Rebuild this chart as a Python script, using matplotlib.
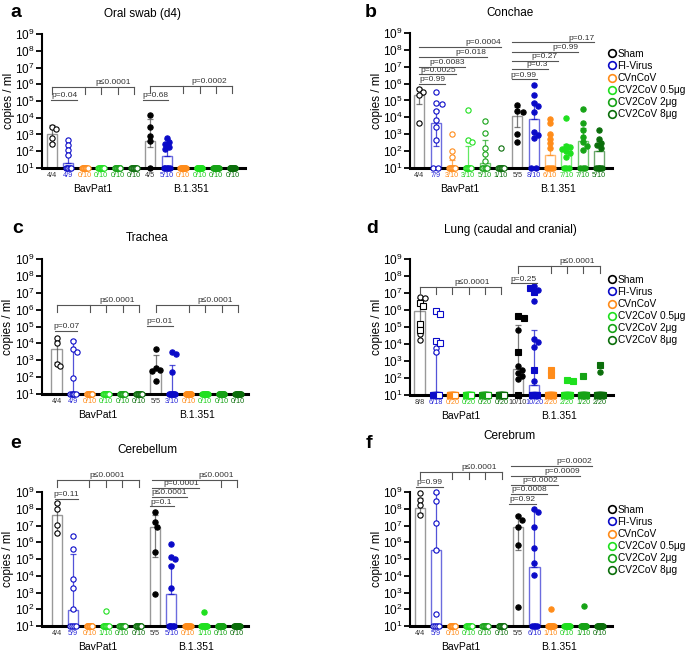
import numpy as np
import matplotlib
matplotlib.use("Agg")
import matplotlib.pyplot as plt
from matplotlib.lines import Line2D
from matplotlib.ticker import NullLocator

plt.rcParams["font.family"] = "Liberation Sans"
plt.rcParams["mathtext.fontset"] = "custom"
plt.rcParams["mathtext.rm"] = "Liberation Sans"
plt.rcParams["mathtext.default"] = "regular"

nan = np.nan

groups = ["Sham", "FI-Virus", "CVnCoV", "CV2CoV 0.5μg", "CV2CoV 2μg", "CV2CoV 8μg"]
variants = ["BavPat1", "B.1.351"]
colors = ["#000000", "#0a0ac8", "#ff8c1a", "#1fe01f", "#16a316", "#0b6e0b"]
label_colors = ["#333333", "#2a2ad8", "#ff8c1a", "#1fd01f", "#16a316", "#0b6e0b"]

# values are log10(copies / ml); 1 = detection limit
# 12 groups: BavPat1 x6 then B.1.351 x6

# a - Oral swab (d4)
a_det = [[3.45, 3.3, 2.8, 2.45], [2.65, 2.35, 2.05, 1.76], [], [], [], [],
         [4.14, 3.45, 2.9, 2.6], [2.79, 2.55, 2.41, 2.25, 2.15], [], [], [], []]
a_n = [4, 9, 10, 10, 10, 10, 5, 10, 10, 10, 10, 10]
a_labels = ["4/4", "4/9", "0/10", "0/10", "0/10", "0/10", "4/5", "5/10", "0/10", "0/10", "0/10", "0/10"]
a_bar = [3.05, 1.3, 1, 1, 1, 1, 2.6, 1.7, 1, 1, 1, 1]
a_err_hi = [3.55, 1.8, nan, nan, nan, nan, 3.95, 2.75, nan, nan, nan, nan]
a_err_lo = [2.5, nan, nan, nan, nan, nan, 2.25, nan, nan, nan, nan, nan]

# b - Conchae
b_det = [[5.68, 5.5, 5.35, 3.69], [5.52, 4.88, 4.8, 4.38, 3.85, 3.4, 2.65], [3.03, 1.98, 1.68],
         [4.42, 2.67, 2.53], [3.77, 3.09, 2.17, 1.84, 1.44], [2.17],
         [4.72, 4.38, 4.3, 3.03, 2.53], [5.92, 5.32, 4.85, 4.7, 4.3, 3.15, 2.93, 2.75],
         [3.93, 3.67, 3.03, 2.73, 2.47, 2.17], [3.99, 2.33, 2.23, 2.13, 2.03, 1.88, 1.68],
         [4.52, 3.69, 3.27, 2.83, 2.53, 2.33, 2.07], [3.27, 2.73, 2.49, 2.37, 2.17]]
b_n = [4, 9, 10, 10, 10, 10, 5, 10, 10, 10, 10, 10]
b_labels = ["4/4", "7/9", "3/10", "3/10", "5/10", "1/10", "5/5", "8/10", "6/10", "7/10", "7/10", "5/10"]
b_bar = [5.32, 3.69, 1.1, 1.05, 1.28, 1.0, 4.06, 3.9, 1.78, 2.15, 2.59, 1.98]
b_err_hi = [5.76, 4.46, 1.45, 2.3, 2.63, nan, 4.62, 4.92, 2.93, 2.45, 3.39, 2.6]
b_err_lo = [4.82, 2.33, nan, nan, nan, nan, 3.4, nan, nan, nan, nan, nan]

# c - Trachea
c_det = [[4.3, 4.05, 2.8, 2.65], [4.16, 3.67, 3.47, 1.95], [], [], [], [],
         [3.65, 2.55, 2.45, 2.35, 1.75], [3.51, 3.37, 2.28], [], [], [], []]
c_n = [4, 9, 10, 10, 10, 10, 5, 10, 10, 10, 10, 10]
c_labels = ["4/4", "4/9", "0/10", "0/10", "0/10", "0/10", "5/5", "3/10", "0/10", "0/10", "0/10", "0/10"]
c_bar = [3.67, 1, 1, 1, 1, 1, 2.48, 1, 1, 1, 1, 1]
c_err_hi = [4.16, 4.2, nan, nan, nan, nan, 3.33, 2.74, nan, nan, nan, nan]
c_err_lo = [2.88, nan, nan, nan, nan, nan, nan, nan, nan, nan, nan, nan]

# d - Lung (circles and squares = the two lobes)
d_circ = [[6.77, 6.73, 4.56, 4.26], [3.77, 3.51], [], [], [], [],
          [4.83, 2.68, 2.48, 2.3, 2.1, 1.93], [7.42, 7.2, 6.55, 4.3, 4.1, 3.85, 1.8], [], [], [], [2.38]]
d_sq = [[6.4, 6.24, 5.19, 4.85], [5.94, 5.74, 4.16, 4.06], [], [], [], [],
        [5.63, 5.55, 3.51, 1.0], [7.3, 7.05, 2.5], [2.48, 2.19], [1.9, 1.85], [2.09], [2.78]]
d_n = [8, 18, 20, 20, 20, 20, 10, 20, 20, 20, 20, 20]
d_labels = ["8/8", "6/18", "0/20", "0/20", "0/20", "0/20", "10/10", "10/20", "2/20", "2/20", "1/20", "2/20"]
d_bar = [5.94, 1, 1, 1, 1, 1, 2.52, 1.59, 1, 1, 1, 1]
d_err_hi = [6.73, 3.5, nan, nan, nan, nan, 5.11, 4.8, nan, nan, nan, nan]
d_err_lo = [5.05, nan, nan, nan, nan, nan, nan, nan, nan, nan, nan, nan]

# e - Cerebellum
e_det = [[8.34, 7.98, 7.04, 6.54], [6.38, 5.6, 3.8, 3.28, 2.0], [], [1.9], [], [],
         [7.78, 7.18, 6.94, 5.44, 2.94], [5.9, 5.14, 5.0, 4.6, 3.28], [], [1.84], [], []]
e_n = [4, 9, 10, 10, 10, 10, 5, 10, 10, 10, 10, 10]
e_labels = ["4/4", "5/9", "0/10", "1/10", "0/10", "0/10", "5/5", "5/10", "0/10", "1/10", "0/10", "0/10"]
e_bar = [7.6, 1.98, 1, 1, 1, 1, 6.9, 2.94, 1, 1, 1, 1]
e_err_hi = [8.4, 5.3, nan, nan, nan, nan, 7.64, 4.64, nan, nan, nan, nan]
e_err_lo = [6.58, nan, nan, nan, nan, nan, 5.14, nan, nan, nan, nan, nan]

# f - Cerebrum
f_det = [[8.94, 8.5, 8.2, 7.65], [9.0, 8.44, 7.14, 5.54, 1.74], [], [], [], [],
         [7.54, 7.34, 6.94, 5.84, 2.14], [7.98, 7.78, 6.94, 5.68, 4.78, 4.04], [2.0], [], [2.2], []]
f_n = [4, 9, 10, 10, 10, 10, 5, 10, 10, 10, 10, 10]
f_labels = ["4/4", "5/9", "0/10", "0/10", "0/10", "0/10", "5/5", "6/10", "1/10", "0/10", "1/10", "0/10"]
f_bar = [8.04, 5.54, 1, 1, 1, 1, 6.94, 4.5, 1, 1, 1, 1]
f_err_hi = [8.64, 8.94, nan, nan, nan, nan, 7.64, 7.9, nan, nan, nan, nan]
f_err_lo = [7.74, nan, nan, nan, nan, nan, 5.54, nan, nan, nan, nan, nan]

# p-value brackets: (x0, x1, y, text, text x, align, drops)
a_stats = [(-0.05, 1.55, 5.05, "p=0.04", 0.75, "center", []),
           (0, 5, 5.85, "p≤0.0001", 3.7, "center", [0, 2, 3, 4, 5]),
           (5.55, 7.05, 5.05, "p=0.68", 6.3, "center", []),
           (6, 11, 5.9, "p=0.0002", 9.6, "center", [6, 8, 9, 10, 11])]
b_stats = [(0, 1.57, 5.98, "p=0.99", 1.57, "right", []),
           (0, 2.23, 6.55, "p=0.0025", 2.23, "right", []),
           (0, 2.8, 7.01, "p=0.0083", 2.8, "right", []),
           (0, 4.12, 7.57, "p=0.018", 4.12, "right", []),
           (0, 5.0, 8.16, "p=0.0004", 5.0, "right", []),
           (5.69, 7.18, 6.25, "p=0.99", 7.18, "right", []),
           (5.69, 7.86, 6.85, "p=0.3", 7.86, "right", []),
           (5.69, 8.47, 7.37, "p=0.27", 8.47, "right", []),
           (5.69, 9.73, 7.9, "p=0.99", 9.73, "right", []),
           (5.69, 10.71, 8.44, "p=0.17", 10.71, "right", [])]
c_stats = [(-0.09, 1.26, 4.72, "p=0.07", 0.6, "center", []),
           (0, 5, 6.3, "p≤0.0001", 3.7, "center", [0, 2, 3, 4, 5]),
           (5.47, 7.08, 5.05, "p=0.01", 6.27, "center", []),
           (6, 11, 6.3, "p≤0.0001", 9.6, "center", [6, 8, 9, 10, 11])]
d_stats = [(0, 5, 7.38, "p≤0.0001", 3.2, "center", [0, 1, 2, 3, 4, 5]),
           (5.55, 7.14, 7.56, "p=0.25", 6.35, "center", []),
           (6, 11, 8.6, "p≤0.0001", 9.6, "center", [6, 8, 9, 10, 11])]
e_stats = [(-0.1, 1.33, 8.58, "p=0.11", 0.6, "center", []),
           (0, 5, 9.7, "p≤0.0001", 3.1, "center", [0, 2, 3, 4, 5]),
           (5.7, 7.14, 8.14, "p=0.1", 6.4, "center", []),
           (5.8, 7.96, 8.7, "p≤0.0001", 7.96, "right", []),
           (5.8, 8.67, 9.24, "p=0.0001", 8.67, "right", []),
           (5.8, 11, 9.74, "p≤0.0001", 10.8, "right", [10, 11])]
f_stats = [(-0.2, 1.4, 9.3, "p=0.99", 0.6, "center", []),
           (0, 5, 10.2, "p≤0.0001", 3.6, "center", [0, 2, 3, 4, 5]),
           (5.45, 7.07, 8.3, "p=0.92", 6.26, "center", []),
           (5.55, 7.78, 8.88, "p=0.0008", 7.78, "right", []),
           (5.55, 8.41, 9.4, "p=0.0002", 8.41, "right", []),
           (5.55, 9.78, 9.94, "p=0.0009", 9.78, "right", []),
           (5.55, 10.49, 10.54, "p=0.0002", 10.49, "right", [])]

W, H = 698, 653
fig = plt.figure(figsize=(W / 100, H / 100), dpi=100)


def rect(l, t, r, b):
    return [l / W, 1 - b / H, (r - l) / W, (b - t) / H]


def swarm(vals, d=4.2, step=0.12):
    # simple beeswarm in pixel space (16.4 px per group, 16.8 px per decade)
    placed, xs = [], []
    for v in vals:
        k = 0
        while True:
            found = None
            for o in ([0] if k == 0 else [k, -k]):
                x = o * step
                if all(((x - px) * 16.4) ** 2 + ((v - py) * 16.8) ** 2 >= d ** 2 for px, py in placed):
                    found = x
                    break
            if found is not None:
                break
            k += 1
        placed.append((found, v))
        xs.append(found)
    return xs


def draw_panel(ax, det, n, labels, bar, err_hi, err_lo, stats, xlim, sq=None):
    for i in range(12):
        col = colors[i % 6]
        filled = i >= 6
        x = i
        if bar[i] > 1.01:
            ax.bar(x, 10 ** bar[i] - 10, bottom=10, width=0.62, facecolor="white",
                   edgecolor=(col if i % 6 else "#555555", 0.6), lw=1.0, zorder=1)
        if not np.isnan(err_hi[i]):
            lo = err_lo[i] if not np.isnan(err_lo[i]) else bar[i]
            ax.errorbar(x, 10 ** bar[i], yerr=[[10 ** bar[i] - 10 ** lo], [10 ** err_hi[i] - 10 ** bar[i]]],
                        fmt="none", ecolor=(col if i % 6 else "#444444", 0.7), elinewidth=0.9,
                        capsize=2, capthick=0.9, zorder=2)
        circ = det[i]
        squares = sq[i] if sq is not None else []
        n_lod = n[i] - len(circ) - len(squares)
        lod_marker = "s" if sq is not None else "o"
        mfc = col if filled else "white"
        if n_lod > 0:
            xs = np.linspace(-0.17, 0.17, n_lod) if n_lod > 1 else [0]
            ax.plot(x + np.asarray(xs), [10] * n_lod, lod_marker, ms=3.8, mfc=mfc, mec=col,
                    mew=0.8, clip_on=False, zorder=3)
        allv = list(circ) + list(squares)
        if allv:
            xs = swarm(allv)
            for k, v in enumerate(allv):
                m = "o" if k < len(circ) else "s"
                ax.plot(x + xs[k], 10 ** v, m, ms=3.8, mfc=mfc, mec=col, mew=0.8,
                        clip_on=False, zorder=4)
        ax.annotate(labels[i], xy=(x, 0), xycoords=ax.get_xaxis_transform(), xytext=(0, -5.2),
                    textcoords="offset points", ha="center", va="center", fontsize=5.2,
                    color=label_colors[i % 6])
    for j, name in enumerate(variants):
        ax.annotate(name, xy=(2.5 + 6 * j, 0), xycoords=ax.get_xaxis_transform(), xytext=(0, -15.3),
                    textcoords="offset points", ha="center", va="center", fontsize=7.5)
    for x0, x1, y, txt, tx, ha, drops in stats:
        ax.plot([x0, x1], [10 ** y, 10 ** y], color="#555555", lw=0.8, clip_on=False, zorder=5)
        for dx in drops:
            ax.plot([dx, dx], [10 ** y, 10 ** (y - 0.42)], color="#555555", lw=0.8, clip_on=False, zorder=5)
        ax.annotate(txt, xy=(tx, 10 ** y), xytext=(0, 0.6), textcoords="offset points",
                    ha=ha, va="bottom", fontsize=6, color="#333333", annotation_clip=False)

    ax.set_yscale("log")
    ax.set_ylim(10, 1e9)
    ax.set_xlim(*xlim)
    ax.set_yticks([10 ** k for k in range(1, 10)])
    ax.set_yticklabels([f"$10^{{{k}}}$" for k in range(1, 10)], fontsize=8.5)
    ax.yaxis.set_minor_locator(NullLocator())
    ax.set_xticks([])
    ax.tick_params(axis="y", length=4, width=1.3, pad=1.5)
    ax.spines["top"].set_visible(False)
    ax.spines["right"].set_visible(False)
    ax.spines["left"].set_linewidth(1.5)
    ax.spines["bottom"].set_linewidth(2.2)
    ax.set_ylabel("copies / ml", fontsize=8.5)
    ax.yaxis.set_label_coords(-0.135, 0.5)
    ax.patch.set_alpha(0)


panels = [
    ("a", "Oral swab (d4)", rect(42, 34, 245, 168), (-0.61, 11.77), a_det, a_n, a_labels, a_bar, a_err_hi, a_err_lo, a_stats, None, (143, 14), (10, 17)),
    ("b", "Conchae", rect(410, 33, 612, 168), (-0.57, 11.8), b_det, b_n, b_labels, b_bar, b_err_hi, b_err_lo, b_stats, None, (510, 13), (365, 16.7)),
    ("c", "Trachea", rect(42, 259, 248, 394), (-0.88, 11.6), c_det, c_n, c_labels, c_bar, c_err_hi, c_err_lo, c_stats, None, (147, 238), (12, 233)),
    ("d", "Lung (caudal and cranial)", rect(410, 259, 613, 395), (-0.58, 11.8), d_circ, d_n, d_labels, d_bar, d_err_hi, d_err_lo, d_stats, d_sq, (510, 230), (366, 233)),
    ("e", "Cerebellum", rect(42, 492, 248, 626), (-0.89, 11.67), e_det, e_n, e_labels, e_bar, e_err_hi, e_err_lo, e_stats, None, (147, 450), (10, 448)),
    ("f", "Cerebrum", rect(410, 492, 612, 626), (-0.59, 11.73), f_det, f_n, f_labels, f_bar, f_err_hi, f_err_lo, f_stats, None, (509, 436), (366, 448)),
]

legend_top = {"b": 49, "d": 275, "f": 505}
handles = [Line2D([], [], ls="", marker="o", ms=5.5, mfc="white", mec=c, mew=1.2) for c in colors]

for letter, title, r, xlim, det, n, labels, bar, ehi, elo, stats, sq, tpos, lpos in panels:
    ax = fig.add_axes(r)
    draw_panel(ax, det, n, labels, bar, ehi, elo, stats, xlim, sq)
    fig.text(tpos[0] / W, 1 - tpos[1] / H, title, ha="center", va="center", fontsize=8.5)
    fig.text(lpos[0] / W, 1 - lpos[1] / H, letter, ha="left", va="baseline", fontsize=14, fontweight="bold")
    if letter in legend_top:
        ax.legend(handles, groups, loc="upper left", bbox_to_anchor=(609 / W, 1 - legend_top[letter] / H),
                  bbox_transform=fig.transFigure, frameon=False, fontsize=7.3, handlelength=0.6,
                  handletextpad=0.25, labelspacing=0.2, borderpad=0, borderaxespad=0)

fig.savefig("out.png", dpi=100)
